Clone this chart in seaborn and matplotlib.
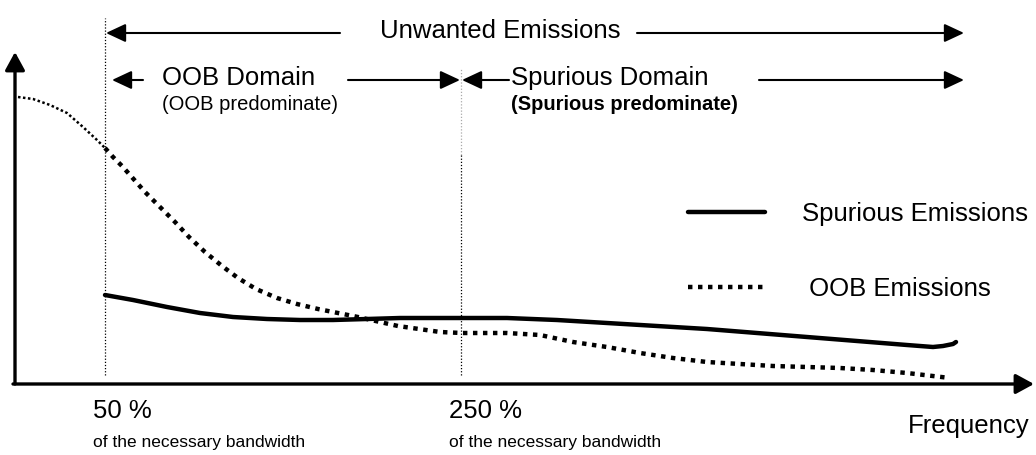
import numpy as np
import seaborn as sns
import matplotlib.pyplot as plt

# frequency axis runs in picture units, level is the height above the frequency axis
spur_freq = [105, 133, 167, 200, 233, 267, 300, 333, 367, 400, 440, 462, 507, 557, 607,
             657, 707, 757, 807, 857, 907, 933, 943, 953, 956]
spur_level = [89, 84, 77, 71, 67, 65, 64, 64, 65, 66, 66, 66, 66, 64, 61,
              58, 55, 51, 47, 43, 39, 37, 38, 40, 42]

oob_in_freq = [18, 33, 50, 67, 83, 97, 105]
oob_in_level = [287, 285, 279, 271, 257, 244, 236]
oob_freq = [105, 113, 122, 130, 145, 160, 175, 189, 205, 222, 238, 256, 277, 297, 318,
            338, 358, 380, 398, 440, 462, 507, 540, 573, 607, 640, 673, 707, 740, 773,
            807, 840, 873, 907, 950]
oob_level = [236, 227, 218, 209, 192, 177, 162, 147, 132, 118, 106, 95, 86, 80, 75,
             71, 67, 62, 58, 52, 51, 51, 49, 42, 37, 31, 26, 22, 20, 18,
             17, 16, 14, 11, 6]

boundary_freq = [105, 461]
boundary_labels = ['50 %', '250 %']

sns.set_style('white')
plt.rcParams['font.family'] = ['Liberation Sans', 'DejaVu Sans']
plt.rcParams['text.color'] = 'black'

fig = plt.figure(figsize=(10.36, 4.55), dpi=100)
ax = fig.add_axes([0, 0, 1, 1])
ax.set_xlim(0, 1036)
ax.set_ylim(-71, 384)
ax.axis('off')

dot = (0, (1, 1.25))
sns.lineplot(x=spur_freq, y=spur_level, sort=False, ax=ax, color='black', lw=3.2,
             label='Spurious Emissions')
sns.lineplot(x=oob_freq, y=oob_level, sort=False, ax=ax, color='black', lw=3.2,
             linestyle=dot, label=' OOB Emissions')
sns.lineplot(x=oob_in_freq, y=oob_in_level, sort=False, ax=ax, color='black', lw=1.8,
             linestyle=(0, (1, 1)))

# domain boundaries
ax.vlines(boundary_freq[0], 9, 366, color='black', lw=0.9, linestyles=(0, (1, 1.5)))
ax.vlines(boundary_freq[1], 229, 316, color='#aaaaaa', lw=0.9, linestyles=(0, (1, 1.5)))
ax.vlines(boundary_freq[1], 9, 229, color='black', lw=0.9, linestyles=(0, (1, 1.5)))

# axes with arrow heads
big = dict(arrowstyle='-|>,head_length=0.55,head_width=0.3', mutation_scale=20,
           color='black', lw=2.4, shrinkA=0, shrinkB=0)
ax.annotate('', xy=(15, 332), xytext=(15, 0), arrowprops=big)
ax.annotate('', xy=(1034, 0), xytext=(13, 0), arrowprops=big)

small = dict(arrowstyle='-|>,head_length=0.6,head_width=0.28', mutation_scale=20,
             color='black', lw=1.5, shrinkA=0, shrinkB=0)

def span(x0, x1, y):
    ax.annotate('', xy=(x1, y), xytext=(x0, y), arrowprops=small)

span(340, 106, 351)
span(637, 964, 351)
span(143, 112, 304)
span(348, 460, 304)
span(509, 462, 304)
span(759, 964, 304)

main_fs = 18.5
sub_fs = 14.5
ax.text(380, 353, 'Unwanted Emissions', fontsize=main_fs, ha='left', va='center')
ax.text(162, 306, 'OOB Domain', fontsize=main_fs, ha='left', va='center')
ax.text(162, 279, '(OOB predominate)', fontsize=sub_fs, ha='left', va='center')
ax.text(511, 306, 'Spurious Domain', fontsize=main_fs, ha='left', va='center')
ax.text(511, 279, '(Spurious predominate)', fontsize=sub_fs, fontweight='bold',
        ha='left', va='center')

for fx, lab in zip(boundary_freq, boundary_labels):
    ax.text(fx - 12, -27, lab, fontsize=main_fs, ha='left', va='center')
    ax.text(fx - 12, -58, 'of the necessary bandwidth', fontsize=12.5, ha='left', va='center')
ax.text(908, -42, 'Frequency', fontsize=main_fs, ha='left', va='center')

ax.legend(loc='center left', bbox_to_anchor=(688 / 1036, 1 - 251.5 / 455), frameon=False,
          fontsize=main_fs, handlelength=3.0, handletextpad=1.42, labelspacing=2.0,
          borderpad=0, borderaxespad=0)

plt.savefig('out.png', dpi=100)
